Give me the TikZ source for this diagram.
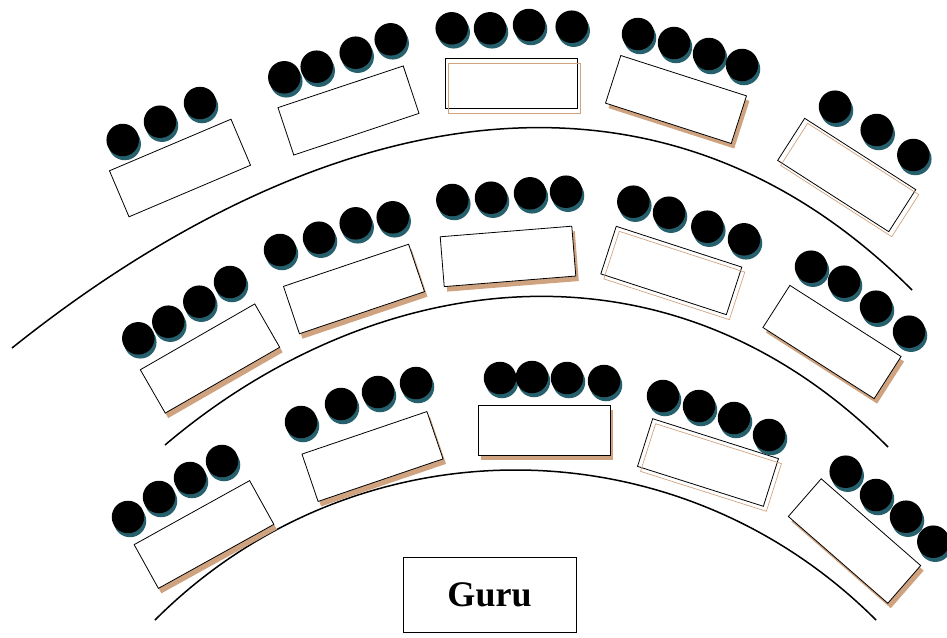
\documentclass[tikz,border=0pt]{standalone}
\usepackage{fontspec}
\setmainfont{Liberation Serif}
\usetikzlibrary{shadows}
\definecolor{seatshade}{RGB}{38,96,108}
\definecolor{deskshade}{RGB}{208,163,128}
\tikzset{
  desk/.style={draw, fill=white, line width=0.8pt, inner sep=0pt, minimum width=132pt, minimum height=50pt},
  deskfill/.style={fill=deskshade, inner sep=0pt, minimum width=132pt, minimum height=50pt},
  deskline/.style={draw=deskshade, line width=0.7pt, inner sep=0pt, minimum width=132pt, minimum height=50pt},
  seat/.style={circle, fill=black, inner sep=0pt, minimum size=32.5pt,
    drop shadow={shadow xshift=2pt, shadow yshift=-4pt, fill=seatshade, opacity=1}},
  aisle/.style={line width=1.5pt},
}
\begin{document}
\begin{tikzpicture}[x=1pt, y=-1pt]
\useasboundingbox (0,0) rectangle (947,637);
% aisles
\draw[aisle] (12,348) .. controls (287.6,127.5) and (636.4,14.4) .. (912,290);
\draw[aisle] (165,445) .. controls (365,275) and (660.7,219.7) .. (888,447);
\draw[aisle] (155,620) .. controls (355,420) and (676,420) .. (876,620);
% back row
\node[desk, rotate=23] (desk1a) at (180,168){};
\node[seat] (seat1a1) at (122.7,140){};
\node[seat] (seat1a2) at (160,121.7){};
\node[seat] (seat1a3) at (200,103){};
\node[desk, rotate=18.4] (desk1b) at (348.5,110.5){};
\node[seat] (seat1b1) at (284.3,77.3){};
\node[seat] (seat1b2) at (316.7,66.7){};
\node[seat] (seat1b3) at (355.7,52.7){};
\node[seat] (seat1b4) at (390.7,39.3){};
\node[desk] (desk1c) at (511.7,83.3){};
\node[deskline] (shade1c) at (514.4,88.3){};
\node[seat] (seat1c1) at (451.7,28.3){};
\node[seat] (seat1c2) at (490,28.3){};
\node[seat] (seat1c3) at (529,25){};
\node[seat] (seat1c4) at (571.7,26.7){};
\node[deskfill, rotate=-17.8] (shade1d) at (679,104.5){};
\node[desk, rotate=-17.8] (desk1d) at (676,99.5){};
\node[seat] (seat1d1) at (638,34){};
\node[seat] (seat1d2) at (674,43){};
\node[seat] (seat1d3) at (709,54){};
\node[seat] (seat1d4) at (742,65){};
\node[desk, rotate=-32.7] (desk1e) at (846.7,175){};
\node[deskline, rotate=-32.7] (shade1e) at (849.7,180){};
\node[seat] (seat1e1) at (835,106.7){};
\node[seat] (seat1e2) at (876.7,130){};
\node[seat] (seat1e3) at (913.3,155){};
% middle row
\node[deskfill, rotate=29.9] (shade2a) at (213,363.5){};
\node[desk, rotate=29.9] (desk2a) at (210,358.5){};
\node[seat] (seat2a1) at (138.3,338.3){};
\node[seat] (seat2a2) at (168.3,321.7){};
\node[seat] (seat2a3) at (199.3,301.7){};
\node[seat] (seat2a4) at (230,282){};
\node[deskfill, rotate=18.6] (shade2b) at (357,294){};
\node[desk, rotate=18.6] (desk2b) at (354,289){};
\node[seat] (seat2b1) at (280,250){};
\node[seat] (seat2b2) at (319,237.7){};
\node[seat] (seat2b3) at (355.7,223.3){};
\node[seat] (seat2b4) at (392.7,217.3){};
\node[deskfill, rotate=4.6] (shade2c) at (511,261.4){};
\node[desk, rotate=4.6] (desk2c) at (508,256.4){};
\node[seat] (seat2c1) at (452.3,200){};
\node[seat] (seat2c2) at (491,197.7){};
\node[seat] (seat2c3) at (530,193.3){};
\node[seat] (seat2c4) at (566,191.7){};
\node[desk, rotate=-18] (desk2d) at (671.3,270.5){};
\node[deskline, rotate=-18] (shade2d) at (674.3,275.5){};
\node[seat] (seat2d1) at (633.3,201.7){};
\node[seat] (seat2d2) at (669,212.7){};
\node[seat] (seat2d3) at (707.3,226.7){};
\node[seat] (seat2d4) at (744,239.3){};
\node[deskfill, rotate=-32.6] (shade2e) at (835,347){};
\node[desk, rotate=-32.6] (desk2e) at (832,342){};
\node[seat] (seat2e1) at (811,266.7){};
\node[seat] (seat2e2) at (844,281.7){};
\node[seat] (seat2e3) at (876,306.7){};
\node[seat] (seat2e4) at (909,331.7){};
% front row
\node[deskfill, rotate=29] (shade3a) at (207,539.5){};
\node[desk, rotate=29] (desk3a) at (204,534.5){};
\node[seat] (seat3a1) at (128,517){};
\node[seat] (seat3a2) at (159,497){};
\node[seat] (seat3a3) at (190,478){};
\node[seat] (seat3a4) at (222,461){};
\node[deskfill, rotate=18.8] (shade3b) at (375.5,461.5){};
\node[desk, rotate=18.8] (desk3b) at (372.5,456.5){};
\node[seat] (seat3b1) at (301,422){};
\node[seat] (seat3b2) at (341,404){};
\node[seat] (seat3b3) at (378,392){};
\node[seat] (seat3b4) at (416,383){};
\node[deskfill] (shade3c) at (547,435){};
\node[desk] (desk3c) at (544,430){};
\node[seat] (seat3c1) at (500,378){};
\node[seat] (seat3c2) at (532,377){};
\node[seat] (seat3c3) at (567,378){};
\node[seat] (seat3c4) at (604,381){};
\node[desk, rotate=-17.6] (desk3d) at (708,462.5){};
\node[deskline, rotate=-17.6] (shade3d) at (711,467.5){};
\node[seat] (seat3d1) at (663,396){};
\node[seat] (seat3d2) at (699,406){};
\node[seat] (seat3d3) at (734,418){};
\node[seat] (seat3d4) at (769,435){};
\node[deskfill, rotate=-41.1] (shade3e) at (857.5,546){};
\node[desk, rotate=-41.1] (desk3e) at (854.5,541){};
\node[seat] (seat3e1) at (845.7,471.7){};
\node[seat] (seat3e2) at (876,495){};
\node[seat] (seat3e3) at (906,516.7){};
\node[seat] (seat3e4) at (933.3,541.7){};
% teacher
\node[draw, line width=0.8pt, minimum width=173pt, minimum height=75pt, inner sep=0pt,
  font=\bfseries\fontsize{36}{40}\selectfont] (guru) at (489.5,594.5){Guru};
\end{tikzpicture}
\end{document}
